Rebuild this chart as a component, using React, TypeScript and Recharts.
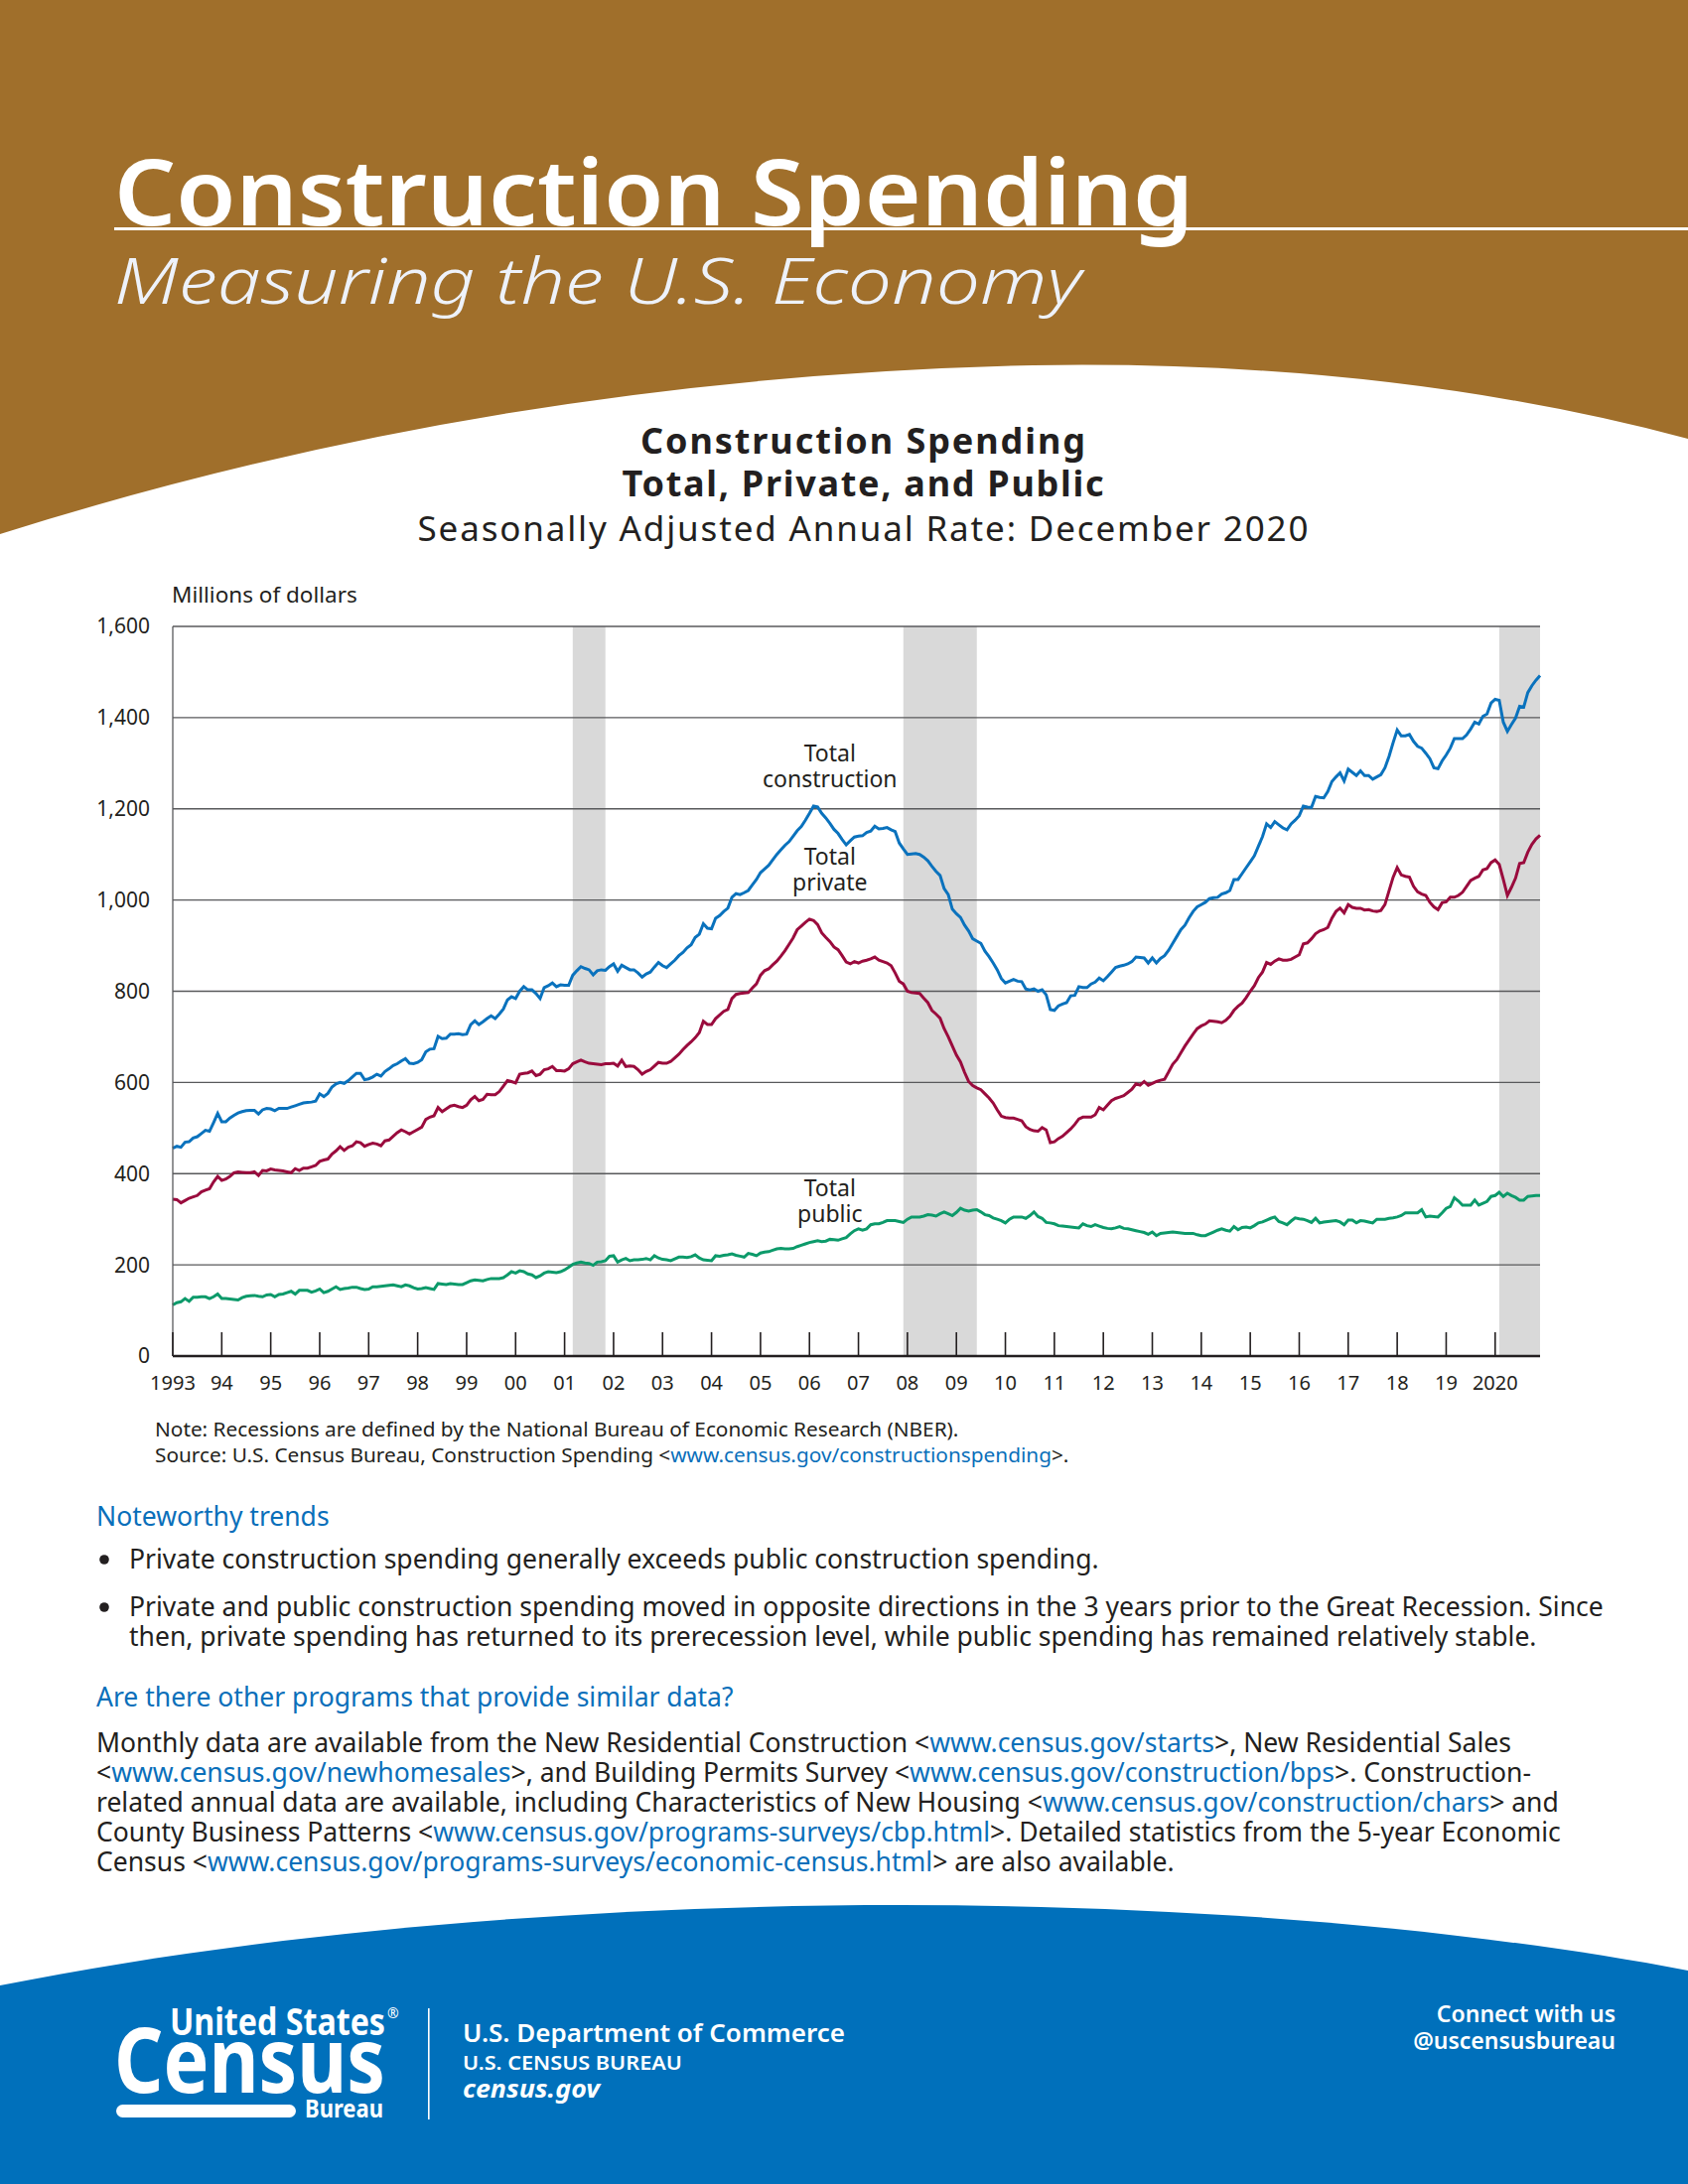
import React from "react";
import {
  LineChart,
  Line,
  XAxis,
  YAxis,
  ReferenceArea,
  ReferenceLine,
  ReferenceDot,
} from "recharts";

// Seasonally adjusted annual rate, monthly, Jan 1993 - Dec 2020
const years = [
  1993, 1994, 1995, 1996, 1997, 1998, 1999, 2000, 2001, 2002, 2003, 2004, 2005, 2006,
  2007, 2008, 2009, 2010, 2011, 2012, 2013, 2014, 2015, 2016, 2017, 2018, 2019, 2020,
];
const yearLabels = [
  "1993", "94", "95", "96", "97", "98", "99", "00", "01", "02", "03", "04", "05", "06",
  "07", "08", "09", "10", "11", "12", "13", "14", "15", "16", "17", "18", "19", "2020",
];
const monthNums = ["01", "02", "03", "04", "05", "06", "07", "08", "09", "10", "11", "12"];

const totalSpending = [
  456, 460, 458, 469, 470, 478, 481, 488, 495, 493, 512, 532, // 1993
  514, 514, 522, 528, 533, 536, 538, 539, 539, 531, 540, 543, // 1994
  542, 538, 543, 543, 543, 546, 549, 552, 555, 556, 557, 559, // 1995
  575, 569, 576, 590, 597, 600, 598, 604, 612, 620, 620, 606, // 1996
  608, 612, 618, 614, 624, 630, 637, 641, 647, 652, 642, 641, // 1997
  644, 650, 667, 673, 674, 701, 696, 697, 706, 706, 707, 705, // 1998
  706, 727, 735, 727, 733, 740, 746, 740, 750, 761, 781, 788, // 1999
  784, 800, 810, 803, 803, 795, 784, 808, 812, 818, 810, 814, // 2000
  813, 813, 835, 845, 854, 850, 847, 836, 845, 847, 846, 854, // 2001
  860, 844, 857, 852, 847, 847, 840, 831, 838, 842, 853, 863, // 2002
  856, 852, 860, 868, 878, 885, 895, 902, 918, 925, 948, 938, // 2003
  937, 960, 966, 975, 982, 1006, 1014, 1012, 1016, 1021, 1033, 1045, // 2004
  1060, 1068, 1076, 1088, 1100, 1110, 1120, 1128, 1140, 1152, 1161, 1175, // 2005
  1190, 1206, 1204, 1190, 1180, 1168, 1155, 1146, 1133, 1121, 1130, 1138, // 2006
  1140, 1141, 1148, 1151, 1162, 1156, 1157, 1159, 1154, 1150, 1125, 1112, // 2007
  1100, 1101, 1102, 1100, 1094, 1086, 1074, 1063, 1054, 1025, 1012, 980, // 2008
  970, 962, 945, 932, 915, 910, 905, 888, 876, 862, 847, 828, // 2009
  818, 822, 826, 822, 821, 805, 803, 805, 800, 803, 792, 760, // 2010
  758, 768, 772, 775, 790, 791, 810, 808, 808, 816, 820, 829, // 2011
  823, 832, 842, 852, 855, 857, 860, 865, 875, 874, 873, 862, // 2012
  873, 862, 872, 878, 890, 905, 920, 935, 945, 961, 975, 985, // 2013
  990, 995, 1003, 1005, 1006, 1013, 1016, 1021, 1045, 1045, 1058, 1071, // 2014
  1084, 1097, 1118, 1139, 1167, 1159, 1172, 1165, 1158, 1154, 1167, 1175, // 2015
  1185, 1206, 1204, 1203, 1227, 1225, 1224, 1238, 1260, 1270, 1279, 1261, // 2016
  1287, 1280, 1273, 1283, 1273, 1273, 1265, 1270, 1275, 1290, 1315, 1345, // 2017
  1373, 1360, 1360, 1363, 1348, 1337, 1333, 1322, 1310, 1290, 1288, 1305, // 2018
  1318, 1333, 1354, 1354, 1354, 1362, 1375, 1390, 1386, 1403, 1408, 1432, // 2019
  1440, 1438, 1390, 1370, 1385, 1399, 1425, 1423, 1455, 1470, 1482, 1492, // 2020
];

const privateSpending = [
  344, 343, 336, 341, 346, 349, 352, 360, 364, 367, 382, 394, // 1993
  385, 388, 394, 402, 404, 403, 402, 402, 404, 396, 407, 406, // 1994
  410, 408, 407, 406, 404, 402, 411, 407, 412, 412, 415, 418, // 1995
  427, 430, 432, 443, 450, 459, 451, 458, 461, 470, 468, 460, // 1996
  464, 467, 465, 461, 472, 474, 482, 490, 496, 492, 487, 492, // 1997
  497, 502, 519, 524, 527, 545, 536, 542, 548, 550, 547, 545, // 1998
  550, 562, 569, 560, 563, 574, 573, 573, 580, 592, 604, 602, // 1999
  599, 618, 620, 621, 625, 615, 618, 628, 630, 635, 626, 626, // 2000
  625, 630, 641, 645, 649, 645, 642, 641, 640, 639, 641, 641, // 2001
  642, 636, 649, 635, 636, 635, 628, 618, 624, 628, 636, 644, // 2002
  642, 642, 646, 654, 662, 672, 681, 689, 698, 709, 734, 727, // 2003
  727, 740, 748, 756, 760, 784, 793, 795, 796, 797, 807, 816, // 2004
  835, 845, 849, 858, 866, 877, 889, 903, 917, 935, 943, 951, // 2005
  958, 955, 946, 928, 918, 909, 897, 891, 878, 864, 860, 865, // 2006
  862, 866, 868, 871, 875, 868, 865, 862, 856, 840, 822, 816, // 2007
  800, 797, 796, 795, 785, 775, 758, 750, 741, 718, 700, 680, // 2008
  660, 645, 622, 602, 593, 588, 584, 575, 566, 555, 540, 526, // 2009
  523, 522, 522, 519, 516, 503, 497, 494, 493, 501, 496, 468, // 2010
  470, 477, 482, 490, 498, 508, 520, 524, 524, 524, 529, 545, // 2011
  540, 550, 560, 565, 568, 571, 578, 585, 597, 594, 602, 594, // 2012
  598, 602, 605, 607, 623, 640, 650, 665, 680, 693, 706, 718, // 2013
  724, 728, 735, 734, 733, 731, 736, 745, 758, 767, 774, 786, // 2014
  800, 812, 830, 842, 863, 859, 866, 871, 868, 868, 870, 875, // 2015
  880, 904, 906, 915, 926, 932, 935, 940, 960, 975, 982, 972, // 2016
  990, 984, 982, 982, 978, 979, 976, 975, 977, 990, 1020, 1050, // 2017
  1071, 1055, 1052, 1050, 1030, 1018, 1013, 1010, 995, 985, 979, 994, // 2018
  996, 1006, 1006, 1010, 1017, 1030, 1043, 1048, 1052, 1066, 1069, 1082, // 2019
  1088, 1078, 1045, 1010, 1028, 1048, 1080, 1082, 1105, 1122, 1134, 1142, // 2020
];

const publicSpending = [
  112, 117, 119, 126, 120, 129, 129, 130, 130, 126, 130, 136, // 1993
  126, 126, 125, 124, 123, 128, 131, 132, 133, 131, 130, 134, // 1994
  135, 130, 135, 136, 139, 142, 136, 144, 144, 144, 140, 143, // 1995
  147, 139, 142, 147, 152, 146, 148, 149, 151, 151, 148, 146, // 1996
  147, 152, 152, 153, 154, 155, 156, 154, 152, 156, 154, 150, // 1997
  147, 148, 150, 148, 146, 159, 158, 157, 159, 158, 157, 157, // 1998
  161, 165, 167, 166, 165, 168, 170, 170, 170, 172, 178, 185, // 1999
  182, 187, 185, 180, 178, 172, 176, 182, 185, 184, 183, 185, // 2000
  189, 195, 201, 204, 206, 204, 203, 199, 206, 207, 209, 219, // 2001
  220, 206, 211, 214, 209, 211, 211, 212, 214, 211, 220, 215, // 2002
  212, 211, 209, 213, 217, 217, 216, 218, 222, 215, 211, 210, // 2003
  209, 220, 219, 221, 222, 224, 221, 219, 217, 225, 223, 220, // 2004
  226, 228, 229, 232, 235, 236, 235, 235, 236, 240, 243, 246, // 2005
  249, 251, 253, 251, 252, 256, 255, 254, 257, 260, 268, 275, // 2006
  279, 276, 279, 288, 290, 290, 293, 297, 297, 297, 295, 293, // 2007
  300, 305, 305, 305, 307, 310, 309, 307, 312, 316, 312, 308, // 2008
  315, 324, 320, 318, 320, 321, 316, 310, 308, 303, 300, 297, // 2009
  292, 300, 305, 305, 305, 302, 308, 316, 306, 302, 293, 292, // 2010
  290, 286, 285, 284, 283, 282, 281, 290, 286, 284, 288, 285, // 2011
  282, 280, 279, 281, 284, 280, 279, 277, 275, 273, 271, 267, // 2012
  272, 264, 269, 270, 271, 272, 271, 270, 269, 269, 269, 266, // 2013
  264, 264, 268, 272, 276, 279, 276, 274, 284, 277, 282, 283, // 2014
  281, 286, 292, 294, 298, 302, 305, 295, 292, 288, 296, 303, // 2015
  301, 300, 297, 293, 302, 292, 294, 295, 296, 297, 294, 288, // 2016
  298, 298, 292, 297, 296, 294, 292, 300, 300, 300, 302, 303, // 2017
  305, 308, 314, 314, 314, 314, 321, 305, 307, 306, 305, 314, // 2018
  324, 328, 347, 340, 331, 331, 331, 342, 331, 335, 339, 350, // 2019
  352, 359, 350, 357, 352, 348, 342, 342, 350, 351, 352, 352, // 2020
];

const yTicks = [0, 200, 400, 600, 800, 1000, 1200, 1400, 1600];

// NBER recessions
const recessions = [
  { from: "2001-03", to: "2001-11" },
  { from: "2007-12", to: "2009-06" },
  { from: "2020-02", to: "2020-12" },
];

const seriesLabels = [
  { month: "2006-06", value: 1304, lines: ["Total", "construction"] },
  { month: "2006-06", value: 1077, lines: ["Total", "private"] },
  { month: "2006-06", value: 350, lines: ["Total", "public"] },
];

const months = years.flatMap((y) => monthNums.map((m) => `${y}-${m}`));
const yearTicks = years.map((y) => `${y}-01`);

const data = months.map((month, i) => ({
  month,
  total: totalSpending[i],
  priv: privateSpending[i],
  pub: publicSpending[i],
}));

const FONT = '"Noto Sans", "Open Sans", sans-serif';
const INK = "#231f20";
const LINK = "#0a6fba";

const YearTick = (props: any) => {
  const { x, y, payload } = props;
  const idx = yearTicks.indexOf(payload.value);
  return (
    <g>
      <line x1={x} x2={x} y1={y} y2={y - 24} stroke={INK} strokeWidth={1.6} />
      <text x={x} y={y + 27} dy="0.35em" textAnchor="middle" fill={INK} fontSize={20} fontFamily={FONT}>
        {yearLabels[idx]}
      </text>
    </g>
  );
};

const SeriesLabel = (props: any) => {
  const { viewBox, lines } = props;
  const cx = viewBox.x + viewBox.width / 2;
  const cy = viewBox.y + viewBox.height / 2;
  return (
    <text x={cx} y={cy} textAnchor="middle" fill={INK} fontSize={23} fontFamily={FONT}>
      {lines.map((l: string, i: number) => (
        <tspan key={i} x={cx} dy={i === 0 ? 0 : 26}>
          {l}
        </tspan>
      ))}
    </text>
  );
};

const Chart = () => (
  <LineChart
    width={1520}
    height={830}
    data={data}
    margin={{ top: 31, right: 29, bottom: 14, left: 0 }}
    style={{ fontFamily: FONT }}
  >
    <XAxis
      dataKey="month"
      ticks={yearTicks}
      interval={0}
      tick={<YearTick />}
      tickLine={false}
      tickSize={0}
      tickMargin={0}
      height={50}
      axisLine={{ stroke: INK, strokeWidth: 2.5 }}
    />
    <YAxis
      domain={[0, 1600]}
      ticks={yTicks}
      width={114}
      tickLine={false}
      tickSize={0}
      tickMargin={23}
      axisLine={{ stroke: "#58595b", strokeWidth: 1.3 }}
      tick={{ fill: INK, fontSize: 21, fontFamily: FONT }}
      tickFormatter={(v: number) => v.toLocaleString("en-US")}
    />
    {recessions.map((r) => (
      <ReferenceArea key={r.from} x1={r.from} x2={r.to} fill="#d9d9d9" fillOpacity={1} stroke="none" />
    ))}
    {yTicks.slice(1).map((v) => (
      <ReferenceLine key={v} y={v} stroke="#58595b" strokeWidth={1.3} />
    ))}
    <Line type="linear" dataKey="pub" stroke="#0c9a6a" strokeWidth={3} dot={false} isAnimationActive={false} />
    <Line type="linear" dataKey="priv" stroke="#9a0b3d" strokeWidth={3} dot={false} isAnimationActive={false} />
    <Line type="linear" dataKey="total" stroke="#0a72bd" strokeWidth={3} dot={false} isAnimationActive={false} />
    {seriesLabels.map((s) => (
      <ReferenceDot
        key={s.lines[1]}
        x={s.month}
        y={s.value}
        r={1}
        fill="none"
        stroke="none"
        label={<SeriesLabel lines={s.lines} />}
      />
    ))}
  </LineChart>
);

const Link = ({ children }: { children: React.ReactNode }) => <tspan fill={LINK}>{children}</tspan>;

export default function App() {
  return (
    <div
      style={{
        position: "relative",
        width: 1700,
        height: 2200,
        background: "#fff",
        overflow: "hidden",
        fontFamily: FONT,
      }}
    >
      <style>{"body{margin:0}"}</style>
      <svg width={1700} height={2200} style={{ position: "absolute", left: 0, top: 0 }} fontFamily={FONT}>
        {/* header band */}
        <path d="M0 0 H1700 V442 Q1400 362 1040 368 Q500 380 0 538 Z" fill="#a06f2b" />
        <text x={115} y={227} fill="#fff" fontSize={92} fontWeight={600} textLength={1087} lengthAdjust="spacingAndGlyphs">
          Construction Spending
        </text>
        <rect x={115} y={229} width={1585} height={3} fill="#fff" />
        <text
          x={115}
          y={306}
          fill="#eef2fa"
          fontSize={64}
          fontStyle="italic"
          fontWeight={300}
          textLength={974}
          lengthAdjust="spacingAndGlyphs"
        >
          Measuring the U.S. Economy
        </text>

        {/* chart titles */}
        <text x={869} y={457} textAnchor="middle" fill={INK} fontSize={36} fontWeight={700} textLength={448} lengthAdjust="spacing">
          Construction Spending
        </text>
        <text x={869} y={500} textAnchor="middle" fill={INK} fontSize={36} fontWeight={700} textLength={485} lengthAdjust="spacing">
          Total, Private, and Public
        </text>
        <text x={869} y={545} textAnchor="middle" fill={INK} fontSize={35} textLength={897} lengthAdjust="spacing">
          Seasonally Adjusted Annual Rate: December 2020
        </text>
        <text x={173} y={607} fill={INK} fontSize={22.5}>
          Millions of dollars
        </text>

        {/* notes */}
        <g fontSize={20.8} fill={INK}>
          <text x={156} y={1447}>
            Note: Recessions are defined by the National Bureau of Economic Research (NBER).
          </text>
          <text x={156} y={1473}>
            Source: U.S. Census Bureau, Construction Spending &lt;<Link>www.census.gov/constructionspending</Link>&gt;.
          </text>
        </g>

        {/* body */}
        <g fontSize={26.5} fill={INK}>
          <text x={97} y={1537} fill={LINK}>
            Noteworthy trends
          </text>
          <circle cx={105} cy={1571} r={4.8} fill={INK} />
          <text x={130} y={1580}>
            Private construction spending generally exceeds public construction spending.
          </text>
          <circle cx={105} cy={1619} r={4.8} fill={INK} />
          <text x={130} y={1628}>
            Private and public construction spending moved in opposite directions in the 3 years prior to the Great Recession. Since
          </text>
          <text x={130} y={1658}>
            then, private spending has returned to its prerecession level, while public spending has remained relatively stable.
          </text>
          <text x={97} y={1719} fill={LINK}>
            Are there other programs that provide similar data?
          </text>
          <text x={97} y={1765}>
            Monthly data are available from the New Residential Construction &lt;<Link>www.census.gov/starts</Link>&gt;, New Residential Sales
          </text>
          <text x={97} y={1795}>
            &lt;<Link>www.census.gov/newhomesales</Link>&gt;, and Building Permits Survey &lt;
            <Link>www.census.gov/construction/bps</Link>&gt;.  Construction-
          </text>
          <text x={97} y={1825}>
            related annual data are available, including Characteristics of New Housing &lt;
            <Link>www.census.gov/construction/chars</Link>&gt; and
          </text>
          <text x={97} y={1855}>
            County Business Patterns &lt;<Link>www.census.gov/programs-surveys/cbp.html</Link>&gt;. Detailed statistics from the 5-year Economic
          </text>
          <text x={97} y={1885}>
            Census &lt;<Link>www.census.gov/programs-surveys/economic-census.html</Link>&gt; are also available.
          </text>
        </g>

        {/* footer band */}
        <path d="M0 2000 C500 1900 1200 1890 1700 1985 V2200 H0 Z" fill="#0070bb" />
        <g fill="#fff">
          <text x={171} y={2050} fontSize={37} fontWeight={700} textLength={217} lengthAdjust="spacingAndGlyphs">
            United States
          </text>
          <text x={390} y={2033} fontSize={14}>
            ®
          </text>
          <text x={115} y={2108} fontSize={92} fontWeight={700} textLength={273} lengthAdjust="spacingAndGlyphs">
            Census
          </text>
          <rect x={117} y={2120} width={181} height={13} rx={6.5} />
          <text x={307} y={2133} fontSize={25} fontWeight={700} textLength={79} lengthAdjust="spacingAndGlyphs">
            Bureau
          </text>
          <rect x={431} y={2023} width={1.6} height={112} />
          <text x={466} y={2057} fontSize={25} fontWeight={600} textLength={385} lengthAdjust="spacingAndGlyphs">
            U.S. Department of Commerce
          </text>
          <text x={466} y={2085} fontSize={19} fontWeight={600} textLength={221} lengthAdjust="spacingAndGlyphs">
            U.S. CENSUS BUREAU
          </text>
          <text x={466} y={2113} fontSize={25} fontWeight={700} fontStyle="italic" textLength={138} lengthAdjust="spacingAndGlyphs">
            census.gov
          </text>
          <text x={1627} y={2037} fontSize={23} fontWeight={600} textAnchor="end">
            Connect with us
          </text>
          <text x={1627} y={2064} fontSize={23} fontWeight={600} textAnchor="end">
            @uscensusbureau
          </text>
        </g>
      </svg>
      <div style={{ position: "absolute", left: 60, top: 600 }}>
        <Chart />
      </div>
    </div>
  );
}
